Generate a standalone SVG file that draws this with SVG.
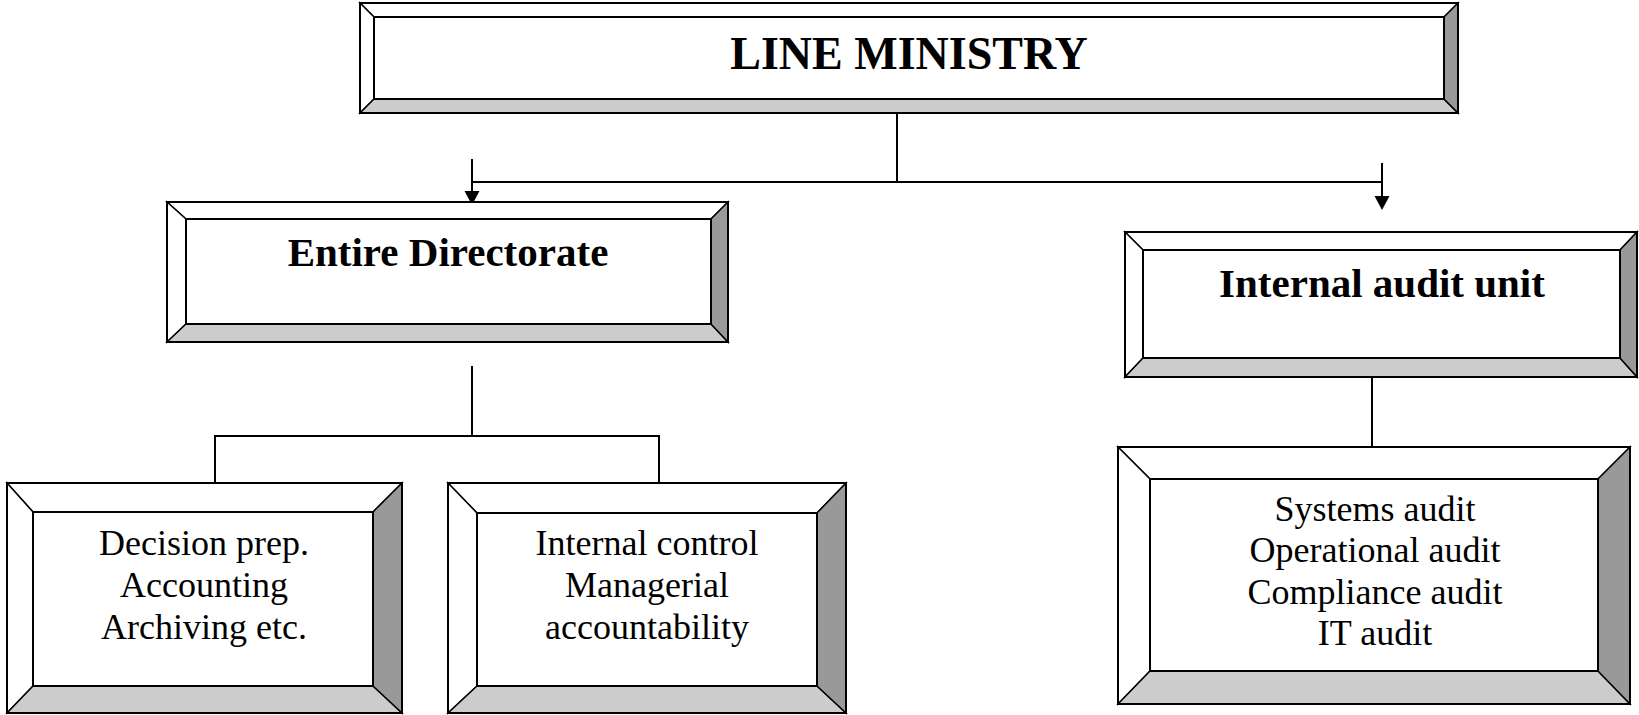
<svg xmlns="http://www.w3.org/2000/svg" width="1639" height="715" viewBox="0 0 1639 715">
<style>
.bev{stroke:#000;stroke-width:1.5;stroke-linejoin:miter}
.lt{fill:#fff}
.bt{fill:#ccc}
.rt{fill:#999}
.frame{fill:none;stroke:#000;stroke-width:2}
.inner{fill:#fff;stroke:#000;stroke-width:2}
.conn{fill:none;stroke:#000;stroke-width:2}
.head{fill:#000}
.tb{font-family:"Liberation Serif","Times New Roman",serif;font-weight:bold;text-anchor:middle}
.tr{font-family:"Liberation Serif","Times New Roman",serif;font-size:36px;text-anchor:middle}
</style>
<rect width="1639" height="715" fill="#fff"/>
<g id="connectors">
<polyline class="conn" points="897,113 897,182"/>
<polyline class="conn" points="472,182 1382,182"/>
<polyline class="conn" points="472,159 472,195"/>
<polygon class="head" points="464.5,191 479.5,191 472,205"/>
<polyline class="conn" points="1382,163 1382,198"/>
<polygon class="head" points="1374.5,196 1389.5,196 1382,210"/>
<polyline class="conn" points="472,366 472,436"/>
<polyline class="conn" points="215,483 215,436 659,436 659,483"/>
<polyline class="conn" points="1372,377 1372,447"/>
</g>
<g id="line-ministry">
<polygon class="bev lt" points="360,3 1458,3 1444,17 374,17"/>
<polygon class="bev lt" points="360,3 374,17 374,99 360,113"/>
<polygon class="bev bt" points="360,113 374,99 1444,99 1458,113"/>
<polygon class="bev rt" points="1458,3 1458,113 1444,99 1444,17"/>
<rect class="inner" x="374" y="17" width="1070" height="82"/>
<rect class="frame" x="360" y="3" width="1098" height="110"/>
<text class="tb" x="909" y="69" font-size="46">LINE MINISTRY</text>
</g>
<g id="entire-directorate">
<polygon class="bev lt" points="167,202 728,202 711,219 186,219"/>
<polygon class="bev lt" points="167,202 186,219 186,324 167,342"/>
<polygon class="bev bt" points="167,342 186,324 711,324 728,342"/>
<polygon class="bev rt" points="728,202 728,342 711,324 711,219"/>
<rect class="inner" x="186" y="219" width="525" height="105"/>
<rect class="frame" x="167" y="202" width="561" height="140"/>
<text class="tb" x="448" y="266" font-size="41">Entire Directorate</text>
</g>
<g id="internal-audit-unit">
<polygon class="bev lt" points="1125,232 1637,232 1620,250 1143,250"/>
<polygon class="bev lt" points="1125,232 1143,250 1143,358 1125,377"/>
<polygon class="bev bt" points="1125,377 1143,358 1620,358 1637,377"/>
<polygon class="bev rt" points="1637,232 1637,377 1620,358 1620,250"/>
<rect class="inner" x="1143" y="250" width="477" height="108"/>
<rect class="frame" x="1125" y="232" width="512" height="145"/>
<text class="tb" x="1382" y="297" font-size="41">Internal audit unit</text>
</g>
<g id="decision-prep">
<polygon class="bev lt" points="7,483 402,483 373,512 33,512"/>
<polygon class="bev lt" points="7,483 33,512 33,686 7,713"/>
<polygon class="bev bt" points="7,713 33,686 373,686 402,713"/>
<polygon class="bev rt" points="402,483 402,713 373,686 373,512"/>
<rect class="inner" x="33" y="512" width="340" height="174"/>
<rect class="frame" x="7" y="483" width="395" height="230"/>
<text class="tr" x="204" y="555">Decision prep.</text>
<text class="tr" x="204" y="597">Accounting</text>
<text class="tr" x="204" y="639">Archiving etc.</text>
</g>
<g id="internal-control">
<polygon class="bev lt" points="448,483 846,483 817,513 477,513"/>
<polygon class="bev lt" points="448,483 477,513 477,686 448,713"/>
<polygon class="bev bt" points="448,713 477,686 817,686 846,713"/>
<polygon class="bev rt" points="846,483 846,713 817,686 817,513"/>
<rect class="inner" x="477" y="513" width="340" height="173"/>
<rect class="frame" x="448" y="483" width="398" height="230"/>
<text class="tr" x="647" y="555">Internal control</text>
<text class="tr" x="647" y="597">Managerial</text>
<text class="tr" x="647" y="639">accountability</text>
</g>
<g id="audit-types">
<polygon class="bev lt" points="1118,447 1630,447 1598,479 1150,479"/>
<polygon class="bev lt" points="1118,447 1150,479 1150,671 1118,704"/>
<polygon class="bev bt" points="1118,704 1150,671 1598,671 1630,704"/>
<polygon class="bev rt" points="1630,447 1630,704 1598,671 1598,479"/>
<rect class="inner" x="1150" y="479" width="448" height="192"/>
<rect class="frame" x="1118" y="447" width="512" height="257"/>
<text class="tr" x="1375" y="521">Systems audit</text>
<text class="tr" x="1375" y="562">Operational audit</text>
<text class="tr" x="1375" y="604">Compliance audit</text>
<text class="tr" x="1375" y="645">IT audit</text>
</g>
</svg>
